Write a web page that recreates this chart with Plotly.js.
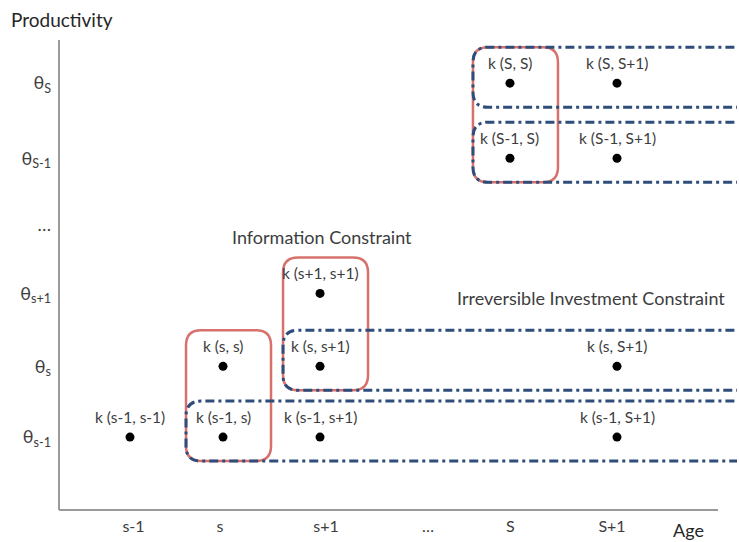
<!DOCTYPE html>
<html><head><meta charset="utf-8">
<script src="https://cdn.plot.ly/plotly-3.0.1.min.js"></script>
<style>html,body{margin:0;padding:0;background:#fff}#chart{width:739px;height:542px}</style>
</head><body><div id="chart"></div>
<script>
// ---- data ----
// Age categories: where each column of points sits, and where its tick label sits
const ageColumnPos = [1, 1.955, 2.951, 4.0, 4.901, 6.0];
const ageTickPos   = [1.036, 1.924, 3.012, 4.06, 4.906, 5.949];
const ageTickText  = ['s-1', 's', 's+1', '…', 'S', 'S+1'];
// Productivity categories
const prodRowPos   = [1, 2.0, 3.03, 4.0, 4.94, 6.0];
const prodTickText = ['θ<sub>s-1</sub>', 'θ<sub>s</sub>', 'θ<sub>s+1</sub>', '…', 'θ<sub>S-1</sub>', 'θ<sub>S</sub>'];
// points: category index (0-based) of age and productivity
const pointAgeIdx  = [0, 1, 1, 2, 2, 2, 4, 4, 5, 5, 5, 5];
const pointProdIdx = [0, 0, 1, 0, 1, 2, 4, 5, 0, 1, 4, 5];
const pointLabels = ['k (s-1, s-1)', 'k (s-1, s)', 'k (s, s)', 'k (s-1, s+1)', 'k (s, s+1)', 'k (s+1, s+1)',
                     'k (S-1, S)', 'k (S, S)', 'k (s-1, S+1)', 'k (s, S+1)', 'k (S-1, S+1)', 'k (S, S+1)'];
// Information constraint groups (age column index, lowest and highest productivity row index)
const infoAgeIdx = [1, 2, 4];
const infoProdLowIdx = [0, 1, 4];
const infoProdHighIdx = [1, 2, 5];
// Irreversible investment constraint rows (productivity row index, first age column index)
const irrProdIdx = [0, 1, 4, 5];
const irrAgeStartIdx = [1, 2, 4, 4];

// ---- layout geometry ----
const W = 739, H = 542;
const M = {l: 59, r: 2, t: 40, b: 32};
const xRange = [0.271, 7.232];
const yRange = [-0.03, 6.61];
const pw = W - M.l - M.r, ph = H - M.t - M.b;
const pxX = pw / (xRange[1] - xRange[0]);
const pxY = ph / (yRange[1] - yRange[0]);
const dx = p => p / pxX, dy = p => p / pxY;

const textColor = '#3d3d3d';
const redColor = '#d8716c';
const blueColor = '#2f4d7a';
const font = 'Lato, "Open Sans", sans-serif';

const shapes = [];
const R = 15, padL = 37, padR = 48, padT = 36, padB = 24;
// red rounded boxes (information constraint)
for (let i = 0; i < infoAgeIdx.length; i++) {
  const xc = ageColumnPos[infoAgeIdx[i]];
  const L = xc - dx(padL), Rt = xc + dx(padR);
  const T = prodRowPos[infoProdHighIdx[i]] + dy(padT), B = prodRowPos[infoProdLowIdx[i]] - dy(padB);
  const rx = dx(R), ry = dy(R);
  const path = `M${L+rx},${T} L${Rt-rx},${T} Q${Rt},${T} ${Rt},${T-ry} L${Rt},${B+ry} Q${Rt},${B} ${Rt-rx},${B} ` +
               `L${L+rx},${B} Q${L},${B} ${L},${B+ry} L${L},${T-ry} Q${L},${T} ${L+rx},${T} Z`;
  shapes.push({type: 'path', xref: 'x', yref: 'y', path, line: {color: redColor, width: 2.5}, layer: 'above'});
}
// blue dash-dot rows open to the right (irreversible investment constraint)
for (let i = 0; i < irrProdIdx.length; i++) {
  const L = ageColumnPos[irrAgeStartIdx[i]] - dx(padL), E = xRange[1] + 1;
  const yc = prodRowPos[irrProdIdx[i]];
  const T = yc + dy(padT), B = yc - dy(padB);
  const rx = dx(R), ry = dy(R);
  const path = `M${E},${T} L${L+rx},${T} Q${L},${T} ${L},${T-ry} L${L},${B+ry} Q${L},${B} ${L+rx},${B} L${E},${B}`;
  shapes.push({type: 'path', xref: 'x', yref: 'y', path, line: {color: blueColor, width: 3, dash: '9px,4px,3px,4px'}, layer: 'above'});
}
// axis lines
shapes.push({type: 'line', xref: 'paper', yref: 'paper', x0: 0, x1: 0, y0: 0, y1: 1, line: {color: '#9a9a9a', width: 2}});
shapes.push({type: 'line', xref: 'paper', yref: 'paper', x0: 0, x1: (718 - M.l) / pw, y0: 0, y1: 0, line: {color: '#9a9a9a', width: 2}});

const px = pointAgeIdx.map(i => ageColumnPos[i]);
const py = pointProdIdx.map(i => prodRowPos[i]);
const trace = {
  type: 'scatter', mode: 'markers',
  x: px, y: py,
  marker: {color: '#000', size: 9},
  hoverinfo: 'skip', showlegend: false, cliponaxis: false
};

const annotations = pointLabels.map((t, i) => ({
  text: t, x: px[i], y: py[i], xref: 'x', yref: 'y', yshift: 20, xanchor: 'center', yanchor: 'middle',
  showarrow: false, font: {family: font, size: 15.5, color: textColor}
}));
annotations.push(
  {text: 'Productivity', xref: 'paper', yref: 'paper', x: (9 - M.l) / pw, y: (H - M.b - 20) / ph, xanchor: 'left', yanchor: 'middle', showarrow: false, font: {family: font, size: 19, color: '#262626'}},
  {text: 'Age', xref: 'paper', yref: 'paper', x: (688 - M.l) / pw, y: (H - M.b - 530) / ph, xanchor: 'center', yanchor: 'middle', showarrow: false, font: {family: font, size: 18, color: '#262626'}},
  {text: 'Information Constraint', xref: 'paper', yref: 'paper', x: (322 - M.l) / pw, y: (H - M.b - 237) / ph, xanchor: 'center', yanchor: 'middle', showarrow: false, font: {family: font, size: 18, color: textColor}},
  {text: 'Irreversible Investment Constraint', xref: 'paper', yref: 'paper', x: (591 - M.l) / pw, y: (H - M.b - 298) / ph, xanchor: 'center', yanchor: 'middle', showarrow: false, font: {family: font, size: 18, color: textColor}}
);

const layout = {
  width: W, height: H, margin: M,
  paper_bgcolor: '#fff', plot_bgcolor: '#fff',
  showlegend: false,
  xaxis: {range: xRange, tickvals: ageTickPos, ticktext: ageTickText, showgrid: false, zeroline: false, showline: false, ticks: '',
          tickfont: {family: font, size: 16, color: textColor}, ticklabelstandoff: 5, fixedrange: true},
  yaxis: {range: yRange, tickvals: prodRowPos, ticktext: prodTickText, showgrid: false, zeroline: false, showline: false, ticks: '',
          tickfont: {family: font, size: 18, color: textColor}, ticklabelstandoff: 7, fixedrange: true},
  shapes, annotations
};

Plotly.newPlot('chart', [trace], layout, {displayModeBar: false, staticPlot: true});
</script>
</body></html>
